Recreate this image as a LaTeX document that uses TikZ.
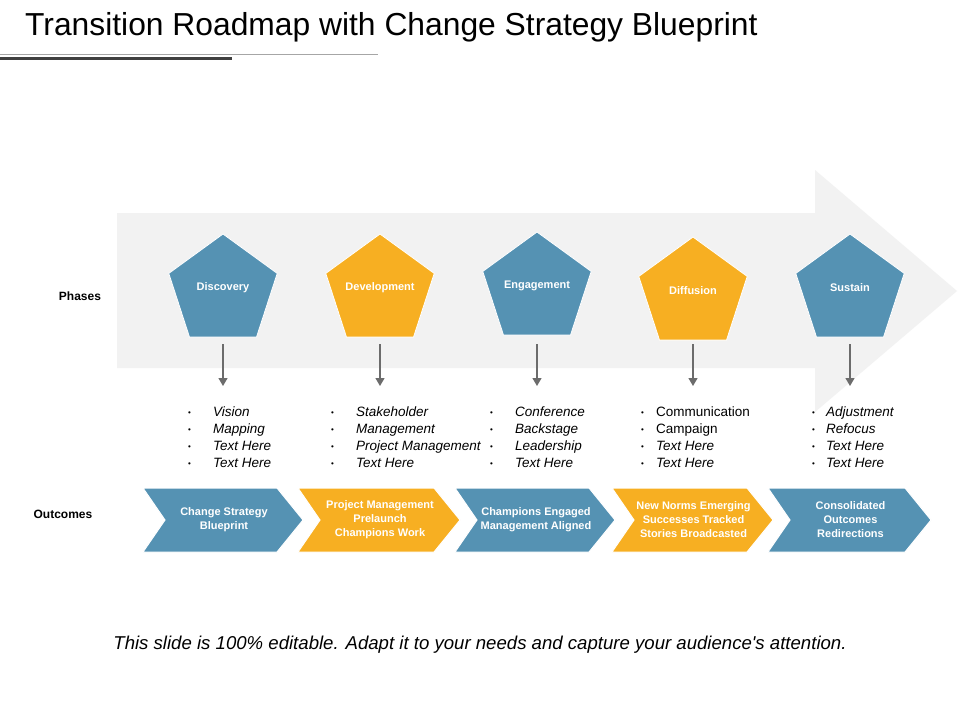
\documentclass[tikz,border=0pt]{standalone}
\usepackage{fontspec}
\setmainfont{Liberation Sans}
\usetikzlibrary{shapes.geometric,arrows.meta}
\definecolor{cblue}{HTML}{5592B3}
\definecolor{corange}{HTML}{F7AF22}
\definecolor{bgarrow}{HTML}{F2F2F2}
\begin{document}
\begin{tikzpicture}[x=1pt,y=-1pt,
  pent/.style={regular polygon,regular polygon sides=5,minimum size=114pt,inner sep=0pt,draw=white,line width=0.8pt},
  plabel/.style={text=white,font=\bfseries\fontsize{11}{12}\selectfont},
  down/.style={draw=gray!85!black,line width=1.2pt,-{Triangle[length=8pt,width=9pt]}},
  blist/.style={anchor=north west,align=left,font=\fontsize{13.5}{16.7}\selectfont,inner sep=0pt},
  bdots/.style={anchor=north west,align=left,font=\fontsize{8}{16.7}\selectfont,inner sep=0pt},
  chev/.style={draw=white,line width=1pt},
  clabel/.style={text=white,align=center,font=\bfseries\fontsize{11}{14}\selectfont},
  side/.style={font=\bfseries\fontsize{12}{14}\selectfont}]
\useasboundingbox (0,0) rectangle (960,720);
\fill[white] (0,0) rectangle (960,720);
\node[anchor=west,inner sep=0pt,font=\fontsize{31.8}{36}\selectfont] (title) at (25,27) {Transition Roadmap with Change Strategy Blueprint};
\draw[gray!70,line width=1pt] (0,54) -- (378,54);
\draw[black!75,line width=3pt] (0,58.5) -- (232,58.5);
% big arrow
\fill[bgarrow] (117,213) -- (815,213) -- (815,170) -- (957,291) -- (815,412) -- (815,368) -- (117,368) -- cycle;
\node[side] (phases) at (80,296) {Phases};
\node[side] (outcomes) at (63,514) {Outcomes};
% pentagons
\foreach \n/\x/\y/\c/\t in {p1/223/291/cblue/Discovery,p2/380/291/corange/Development,p3/537/289/cblue/Engagement,p4/693/294/corange/Diffusion,p5/850/291/cblue/Sustain}{
  \node[pent,fill=\c] (\n) at (\x,\y) {};
  \node[plabel] (\n t) at (\x,\y-3) {\t};
  \coordinate (\n e) at (\x,386);
  \draw[down] (\x,344) -- (\n e);
}
% bullet lists
\foreach \n/\bx/\tx/\txt in {
 b1/190/213/{\itshape Vision\\\itshape Mapping\\\itshape Text Here\\\itshape Text Here},
 b2/333/356/{\itshape Stakeholder\\\itshape Management\\\itshape Project Management\\\itshape Text Here},
 b3/492/515/{\itshape Conference\\\itshape Backstage\\\itshape Leadership\\\itshape Text Here},
 b4/643/656/{Communication\\Campaign\\\itshape Text Here\\\itshape Text Here},
 b5/814/826/{\itshape Adjustment\\\itshape Refocus\\\itshape Text Here\\\itshape Text Here}}{
  \node[blist] (\n) at (\tx,407) {\txt};
  \node[bdots] (\n d) at (\bx-2,412) {•\\•\\•\\•};
}
% chevrons
\foreach \n/\a/\b/\c/\t in {
 c1/143/303/cblue/{Change Strategy\\Blueprint},
 c2/298/460/corange/{Project Management\\Prelaunch\\Champions Work},
 c3/455/615/cblue/{Champions Engaged\\Management Aligned},
 c4/612/773/corange/{New Norms Emerging\\Successes Tracked\\Stories Broadcasted},
 c5/768/931/cblue/{Consolidated\\Outcomes\\Redirections}}{
  \filldraw[chev,fill=\c] (\a,488) -- (\b-26,488) -- (\b,520) -- (\b-26,552) -- (\a,552) -- (\a+22,520) -- cycle;
  \node[clabel] (\n) at ({(\a+\b)/2+1},520) {\t};
}
\node[font=\itshape\fontsize{18.6}{22}\selectfont] (foot) at (480,645) {This slide is 100\% editable. Adapt it to your needs and capture your audience\textquotesingle s attention.};
\end{tikzpicture}
\end{document}
